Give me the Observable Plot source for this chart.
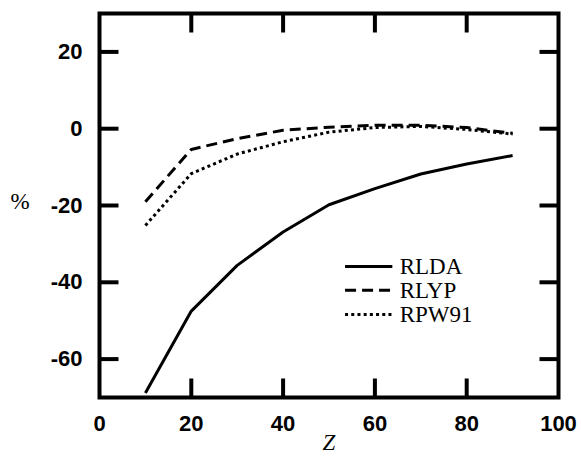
<!DOCTYPE html>
<html>
<head>
<meta charset="utf-8">
<script src="https://cdn.jsdelivr.net/npm/d3@7"></script>
<script src="https://cdn.jsdelivr.net/npm/@observablehq/plot@0.6"></script>
<style>
  html, body { margin: 0; padding: 0; background: #fff; }
  #chart { width: 581px; height: 461px; }
</style>
</head>
<body>
<div id="chart"></div>
<script>
// ---- data ----
const Z      = [10, 20, 30, 40, 50, 60, 70, 80, 90];
const RLDA   = [-68.8, -47.5, -35.6, -26.9, -19.8, -15.6, -11.8, -9.2, -7.0];
const RLYP   = [-19, -5.4, -2.6, -0.4, 0.4, 0.9, 0.9, 0.3, -1.2];
const RPW91  = [-25.2, -11.7, -6.6, -3.4, -0.9, 0.3, 0.6, -0.2, -1.4];
const seriesNames = ["RLDA", "RLYP", "RPW91"];
const xTicks = [0, 20, 40, 60, 80, 100];
const yTicks = [-60, -40, -20, 0, 20];
const xDomain = [0, 100];
const yDomain = [-70, 30];

const dashes = {RLDA: null, RLYP: "11,6", RPW91: "3,3.2"};
const seriesValues = {RLDA, RLYP, RPW91};
const rows = seriesNames.flatMap(name => Z.map((z, i) => ({name, z, v: seriesValues[name][i]})));

const width = 581, height = 461;
const margin = {top: 13, right: 23, bottom: 64, left: 99};
const plotW = width - margin.left - margin.right;
const plotH = height - margin.top - margin.bottom;
const tickPx = 19;
const tx = tickPx * (xDomain[1] - xDomain[0]) / plotW;
const ty = tickPx * (yDomain[1] - yDomain[0]) / plotH;

const innerX = xTicks.filter(t => t > xDomain[0] && t < xDomain[1]);
const tickSegs = [
  ...innerX.map(t => ({x1: t, x2: t, y1: yDomain[0], y2: yDomain[0] + ty})),
  ...innerX.map(t => ({x1: t, x2: t, y1: yDomain[1], y2: yDomain[1] - ty})),
  ...yTicks.map(t => ({x1: xDomain[0], x2: xDomain[0] + tx, y1: t, y2: t})),
  ...yTicks.map(t => ({x1: xDomain[1], x2: xDomain[1] - tx, y1: t, y2: t}))
];

// legend positions (data space)
const legX1 = 53.5, legX2 = 63.8, legTX = 65.4;
const legY = [-35.9, -42.1, -48.4];
const legend = seriesNames.map((name, i) => ({name, y: legY[i], x1: legX1, x2: legX2}));

const fmt = d => String(d);

const chart = Plot.plot({
  width, height,
  marginTop: margin.top, marginRight: margin.right,
  marginBottom: margin.bottom, marginLeft: margin.left,
  x: {domain: xDomain},
  y: {domain: yDomain},
  style: {background: "#fff", color: "#000"},
  marks: [
    // inner ticks on all four sides
    Plot.link(tickSegs, {x1: "x1", x2: "x2", y1: "y1", y2: "y2", stroke: "#000", strokeWidth: 4}),
    // series
    ...seriesNames.map(name => Plot.line(rows.filter(r => r.name === name), {
      x: "z", y: "v", stroke: "#000", strokeWidth: 3,
      strokeDasharray: dashes[name], strokeLinecap: "butt", strokeLinejoin: "round"
    })),
    // legend
    ...legend.map(d => Plot.link([d], {x1: "x1", x2: "x2", y1: "y", y2: "y", stroke: "#000", strokeWidth: 3, strokeDasharray: dashes[d.name]})),
    Plot.text(legend, {x: legTX, y: "y", text: "name", textAnchor: "start", fontSize: 23, fontFamily: "Liberation Serif", fill: "#000"}),
    // axes
    Plot.axisX(xTicks, {tickSize: 0, tickPadding: 18, fontSize: 22, fontWeight: "bold", fontFamily: "Liberation Sans", tickFormat: fmt, label: null}),
    Plot.axisY(yTicks, {tickSize: 0, tickPadding: 17, fontSize: 22, fontWeight: "bold", fontFamily: "Liberation Sans", tickFormat: fmt, label: null}),
    Plot.text(["%"], {frameAnchor: "left", dx: -89, dy: -4, fontSize: 23, fontFamily: "Liberation Serif", fill: "#000"}),
    Plot.text(["Z"], {frameAnchor: "bottom", dy: 52, fontSize: 23, fontStyle: "italic", fontFamily: "Liberation Serif", fill: "#000"}),
    Plot.frame({stroke: "#000", strokeWidth: 4})
  ]
});
document.getElementById("chart").appendChild(chart);
</script>
</body>
</html>
